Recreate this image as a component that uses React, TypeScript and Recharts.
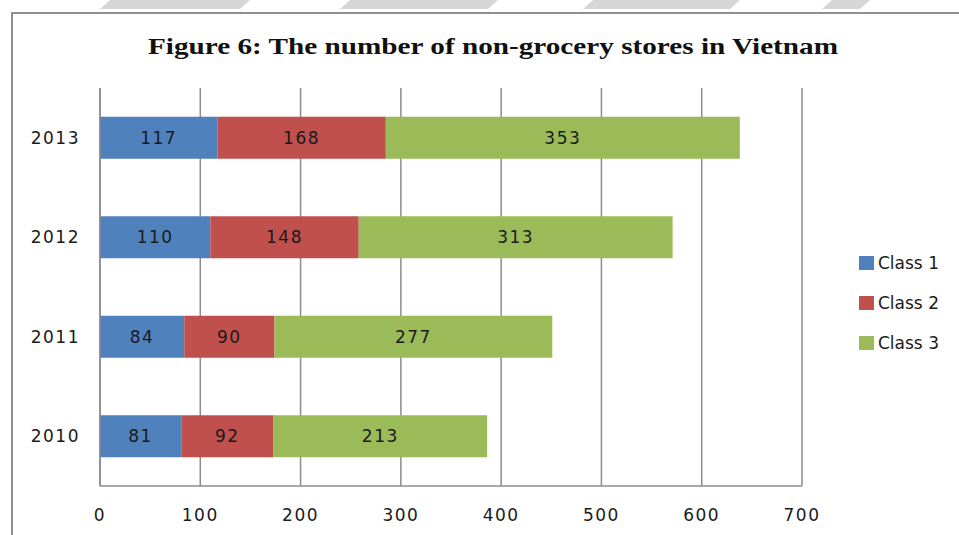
import { BarChart, Bar, XAxis, YAxis, CartesianGrid, LabelList } from "recharts";

const years = ["2010", "2011", "2012", "2013"];
const class1 = [81, 84, 110, 117];
const class2 = [92, 90, 148, 168];
const class3 = [213, 277, 313, 353];
const xTicks = [0, 100, 200, 300, 400, 500, 600, 700];
const seriesNames = ["Class 1", "Class 2", "Class 3"];
const seriesColors = ["#4F81BD", "#C0504D", "#9BBB59"];
const seriesKeys = ["c1", "c2", "c3"];

const data = years.map((year, i) => ({
  year,
  c1: class1[i],
  c2: class2[i],
  c3: class3[i],
}));

const axisFont = "'DejaVu Sans', Verdana, sans-serif";
const gridColor = "#8c8c8c";

const XTick = ({ x, y, payload }: any) => (
  <text
    x={x}
    y={y + 29}
    textAnchor="middle"
    dominantBaseline="central"
    fontSize={17}
    letterSpacing={1.5}
    fontFamily={axisFont}
    fill="#1a1a1a"
  >
    {payload.value}
  </text>
);

const YTick = ({ x, y, payload }: any) => (
  <text
    x={x - 20}
    y={y}
    textAnchor="end"
    dominantBaseline="central"
    fontSize={17}
    letterSpacing={1.5}
    fontFamily={axisFont}
    fill="#1a1a1a"
  >
    {payload.value}
  </text>
);

// the grey slanted strips along the very top of the page
const stripes = [
  [100, 240],
  [340, 488],
  [583, 730],
  [822, 860],
];

const App = () => {
  return (
    <div style={{ position: "absolute", left: 0, top: 0, width: 959, height: 535, background: "#fff", overflow: "hidden" }}>
      <svg width={959} height={20} style={{ position: "absolute", left: 0, top: 0 }}>
        {stripes.map(([a, b], i) => (
          <polygon
            key={i}
            points={`${a},9 ${a + 10},0 ${b + 10},0 ${b},9`}
            fill="#d6d6d6"
          />
        ))}
      </svg>
      <div
        style={{
          position: "absolute",
          left: 11,
          top: 12,
          width: 1000,
          height: 600,
          borderLeft: "2px solid #8f8f8f",
          borderTop: "2px solid #8f8f8f",
        }}
      />
      <svg width={959} height={80} style={{ position: "absolute", left: 0, top: 0 }}>
        <text
          x={148}
          y={54}
          textLength={690}
          lengthAdjust="spacingAndGlyphs"
          fontFamily="'Liberation Serif', 'DejaVu Serif', serif"
          fontWeight="bold"
          fontSize={24}
          fill="#111"
        >
          Figure 6: The number of non-grocery stores in Vietnam
        </text>
      </svg>
      <div style={{ position: "absolute", left: 0, top: 0 }}>
        <BarChart
          width={959}
          height={535}
          data={data}
          layout="vertical"
          margin={{ top: 88, right: 157, left: 0, bottom: 0 }}
          barCategoryGap="29%"
        >
          <CartesianGrid horizontal={false} stroke={gridColor} strokeWidth={1.5} />
          <XAxis
            type="number"
            domain={[0, 700]}
            ticks={xTicks}
            height={49}
            tickSize={0}
            tickMargin={0}
            tickLine={false}
            axisLine={{ stroke: gridColor, strokeWidth: 1.5 }}
            tick={<XTick />}
            interval={0}
          />
          <YAxis
            type="category"
            dataKey="year"
            reversed
            width={100}
            tickSize={0}
            tickMargin={0}
            tickLine={false}
            axisLine={{ stroke: gridColor, strokeWidth: 1.5 }}
            tick={<YTick />}
          />
          {seriesKeys.map((key, i) => (
            <Bar
              key={key}
              dataKey={key}
              name={seriesNames[i]}
              stackId="a"
              fill={seriesColors[i]}
              isAnimationActive={false}
            >
              <LabelList
                dataKey={key}
                position="center"
                fontSize={17}
                letterSpacing={1.5}
                fontFamily={axisFont}
                fill="#1a1a1a"
              />
            </Bar>
          ))}
        </BarChart>
      </div>
      <div style={{ position: "absolute", left: 859, top: 243, fontFamily: axisFont, fontSize: 17, color: "#1a1a1a" }}>
        {seriesNames.map((name, i) => (
          <div key={name} style={{ display: "flex", alignItems: "center", height: 40 }}>
            <span style={{ display: "inline-block", width: 15, height: 14, background: seriesColors[i], marginRight: 4 }} />
            <span style={{ lineHeight: "20px" }}>{name}</span>
          </div>
        ))}
      </div>
    </div>
  );
};

export default App;
